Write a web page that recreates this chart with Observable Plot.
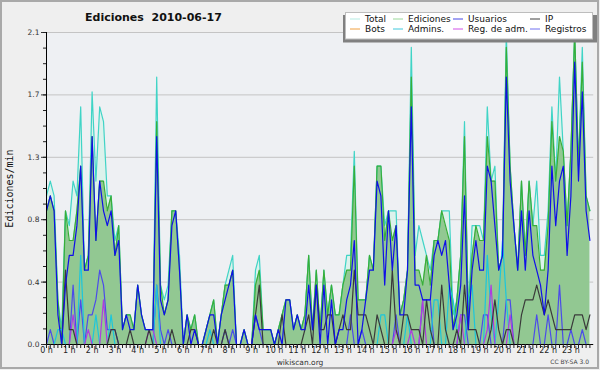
<!DOCTYPE html>
<html><head><meta charset="utf-8">
<script src="https://cdn.jsdelivr.net/npm/d3@7"></script>
<script src="https://cdn.jsdelivr.net/npm/@observablehq/plot@0.6"></script>
<style>
html,body{margin:0;padding:0;background:#efefef;}
#wrap{position:relative;width:600px;height:370px;overflow:hidden;}
#wrap svg{display:block;}
#over{position:absolute;left:0;top:0;pointer-events:none;}
</style>
</head><body>
<div id="wrap"></div>
<script>
// Edits per 10-minute slot (value / 10 = edits per minute), 144 slots from 0:00 to 23:50
const total = [10,11,10,3,1,9,8,11,10,16, 5,6,17,11,16,15,10,10,7,8, 1,2,2,1,4,2,1,1,1,18, 4,3,4,9,9,6,0,2,1,2, 0,0,1,2,3,0,2,4,5,6, 0,0,1,0,0,5,6,1,1,1, 0,1,2,3,3,1,2,1,2,6, 1,5,1,5,2,4,2,2,4,6, 6,13,3,3,3,6,5,12,12,8, 9,9,9,2,3,5,20,6,8,7, 6,5,7,7,9,9,9,2,3,6, 15,2,8,8,8,7,16,11,12,5, 6,21,12,8,5,11,6,11,8,11, 6,6,9,16,11,18,13,8,13,21, 12,20,10,9];
const ediciones = [9,10,9,3,0,9,7,7,9,12, 5,6,14,7,11,11,9,10,6,8, 1,2,2,1,4,2,1,1,1,15, 4,2,3,9,9,5,0,2,1,2, 0,0,1,2,3,0,2,4,4,5, 0,0,1,0,0,4,5,1,1,1, 0,1,2,3,3,1,2,1,2,6, 1,5,1,5,2,4,2,2,4,5, 5,12,3,3,3,6,5,12,12,7, 9,7,8,2,3,5,18,5,5,4, 6,4,7,7,9,8,7,1,3,6, 14,2,6,8,7,7,14,11,11,5, 6,20,12,8,5,11,6,11,8,8, 5,5,8,15,11,14,13,8,13,21, 12,19,10,9];
const usuarios = [9,10,9,2,0,4,6,6,8,12, 5,5,14,7,11,9,8,9,6,7, 1,2,1,1,4,2,1,1,1,14, 3,2,3,8,9,5,0,2,0,1, 0,0,1,2,2,0,2,3,4,5, 0,0,1,0,0,2,1,1,1,1, 0,1,0,3,3,1,2,1,1,4, 1,4,0,4,0,3,0,1,1,3, 4,7,0,1,3,5,5,11,10,4, 9,5,8,2,2,5,16,4,4,3, 3,3,6,7,6,7,4,1,2,4, 10,1,5,7,5,5,12,11,8,5, 6,18,11,8,5,9,5,9,6,5, 4,2,5,12,8,11,12,6,10,19, 11,17,9,7];
const ip = [0,0,0,0,0,5,1,1,0,0, 0,0,0,0,0,0,0,1,1,0, 0,0,1,0,0,0,0,1,0,0, 0,0,0,1,0,0,0,0,1,1, 0,0,0,0,1,0,0,1,0,0, 0,0,0,0,0,2,4,0,0,0, 0,0,2,0,0,0,0,0,1,2, 0,4,1,1,2,2,0,1,2,1, 1,5,2,2,2,1,0,2,1,0, 0,5,1,0,2,2,1,1,1,0, 3,1,0,0,4,1,0,0,1,0, 4,1,1,1,0,0,0,1,3,1, 0,1,1,0,0,2,3,3,3,4, 3,2,3,2,1,1,1,1,1,2, 2,2,1,2];
const bots = [0,0,0,0,0,0,0,0,0,0, 0,0,0,0,0,0,0,0,0,0, 0,0,0,0,0,0,0,0,0,0, 0,0,0,0,0,0,0,0,0,0, 0,0,0,0,0,0,0,0,0,0, 0,0,0,0,0,0,0,0,0,0, 0,0,0,0,0,0,0,0,0,0, 0,0,0,0,0,0,0,0,0,0, 0,0,0,0,0,0,0,0,0,0, 0,0,0,0,0,0,0,0,0,0, 0,0,0,0,0,0,0,0,0,0, 0,0,0,0,0,0,0,0,0,0, 0,0,0,0,0,0,0,0,0,0, 0,0,0,0,0,0,0,0,0,0, 0,0,0,0];
const admins = [0,0,0,1,1,0,0,0,0,6, 0,0,0,2,0,0,0,2,0,0, 0,0,0,0,0,0,0,0,0,4, 0,0,0,0,0,0,0,0,0,0, 0,0,0,1,0,0,0,0,0,0, 0,0,0,0,0,0,0,0,0,0, 0,0,0,0,0,0,0,0,0,0, 0,0,0,0,0,0,0,0,0,0, 0,0,0,0,0,0,0,0,2,2, 0,0,0,0,0,2,0,0,0,0, 0,0,3,3,0,0,4,3,1,0, 0,3,4,0,0,0,6,2,0,3, 7,3,0,0,0,0,0,0,0,0, 0,0,0,0,0,0,0,0,0,0, 0,0,0,0];
const regAdm = [0,0,0,0,0,0,0,2,0,0, 0,1,0,0,0,3,0,0,0,0, 0,0,0,0,0,0,0,1,1,0, 0,0,0,0,0,0,0,0,0,0, 0,0,0,0,0,0,0,0,0,0, 0,0,0,0,0,0,0,0,0,0, 0,0,0,0,0,0,0,0,0,0, 0,0,0,0,0,0,0,0,0,0, 0,0,0,0,0,0,0,0,0,0, 0,0,1,0,0,0,1,0,0,3, 0,0,0,0,0,0,0,0,0,2, 0,0,0,0,0,0,1,4,0,0, 0,0,2,0,0,0,0,0,0,0, 0,0,0,0,0,0,0,0,0,0, 0,0,0,0];
const registros = [0,1,0,0,0,0,0,4,0,3, 0,2,2,3,5,4,1,1,1,0, 0,0,0,0,0,0,0,0,0,4, 1,0,1,0,0,0,0,0,0,0, 0,0,0,0,0,0,0,1,0,1, 0,0,0,0,0,2,1,0,0,0, 0,0,0,0,0,0,0,0,0,0, 0,0,0,0,0,0,0,0,0,0, 2,0,0,1,0,0,0,0,0,0, 0,0,2,0,0,0,0,0,0,3, 3,3,0,0,0,0,0,0,0,2, 2,0,0,0,0,2,2,0,0,0, 0,3,3,0,0,0,0,0,0,2, 0,0,2,0,0,4,0,0,1,0, 0,1,0,0];

const hourTicks = [0,1,2,3,4,5,6,7,8,9,10,11,12,13,14,15,16,17,18,19,20,21,22,23];
const yTicks = [0, 0.42, 0.84, 1.26, 1.68, 2.1];
const legendItems = [
  {name:"Total", color:"#b5ebe3"}, {name:"Ediciones", color:"#9ad89a"},
  {name:"Usuarios", color:"#4646e6"}, {name:"IP", color:"#404040"},
  {name:"Bots", color:"#f0a040"}, {name:"Admins.", color:"#40c8dc"},
  {name:"Reg. de adm.", color:"#d050e8"}, {name:"Registros", color:"#7070f0"}
];

// time slot index -> hour of day
const rows = total.map((t, i) => ({
  h: i / 6,
  total: t / 10, ediciones: ediciones[i] / 10, usuarios: usuarios[i] / 10,
  ip: ip[i] / 10, bots: bots[i] / 10, admins: admins[i] / 10,
  regAdm: regAdm[i] / 10, registros: registros[i] / 10
}));
const minorX = rows.map(d => d.h);
const minorY = d3.range(0, 21).map(k => k * 0.105);

const ln = (key, color) => Plot.line(rows, {x: "h", y: key, stroke: color, strokeWidth: 1.2});

const chart = Plot.plot({
  width: 600, height: 370,
  marginTop: 32, marginBottom: 26, marginLeft: 46, marginRight: 6.8,
  x: {domain: [0, 24], axis: null},
  y: {domain: [0, 2.1], axis: null},
  style: {background: "transparent", fontFamily: "DejaVu Sans, sans-serif", color: "#222"},
  marks: [
    Plot.frame({fill: "#eef0f3", stroke: null}),
    Plot.gridY(yTicks, {stroke: "#c4c4c4", strokeOpacity: 1}),
    Plot.areaY(rows, {x: "h", y: "total", fill: "#dcf2ec"}),
    Plot.areaY(rows, {x: "h", y: "ediciones", fill: "#92c892"}),
    ln("bots", "#f0a030"),
    ln("total", "#40d4c6"),
    ln("ediciones", "#38ae38"),
    ln("registros", "#4b4bea"),
    ln("admins", "#1cc6dc"),
    ln("regAdm", "#b03ce0"),
    ln("ip", "#3a3a3a"),
    ln("usuarios", "#0f0fe8"),
    Plot.ruleX([0], {stroke: "#000"}),
    Plot.ruleY([0], {stroke: "#000"}),
    Plot.axisY(yTicks, {tickFormat: d3.format(".1f"), tickSize: 5, tickPadding: 2, fontSize: 7.5, label: null, color: "#333"}),
    Plot.axisY(minorY, {tickSize: 3, tickFormat: () => "", label: null}),
    Plot.axisX(hourTicks, {tickFormat: d => d + " h", tickSize: 4, tickPadding: -1, fontSize: 8, label: null}),
    Plot.axisX(minorX, {tickSize: 4, tickFormat: () => "", label: null})
  ]
});
document.getElementById("wrap").appendChild(chart);

// overlay: title, axis label, footer, legend, border
const svg = d3.select("#wrap").append("svg").attr("id", "over")
  .attr("width", 600).attr("height", 370)
  .style("font-family", "DejaVu Sans, sans-serif");
svg.append("text").attr("x", 85).attr("y", 21)
  .style("white-space", "pre").attr("font-size", 11).attr("font-weight", "bold").attr("fill", "#111")
  .text("Ediciones  2010-06-17");
svg.append("text").attr("transform", "translate(13,188.5) rotate(-90)")
  .attr("text-anchor", "middle").attr("font-family", "DejaVu Sans Mono, monospace")
  .attr("font-size", 10).attr("fill", "#111").text("Ediciones/min");
svg.append("text").attr("x", 300).attr("y", 365).attr("text-anchor", "middle")
  .attr("font-size", 7.5).attr("fill", "#333").text("wikiscan.org");
svg.append("text").attr("x", 589).attr("y", 364).attr("text-anchor", "end")
  .attr("font-size", 6).attr("fill", "#444").text("CC BY-SA 3.0");

const lg = svg.append("g");
lg.append("rect").attr("x", 343).attr("y", 15).attr("width", 254.5).attr("height", 27.5).attr("fill", "#808080");
lg.append("rect").attr("x", 345.5).attr("y", 12.5).attr("width", 247).attr("height", 26.5)
  .attr("fill", "#fff").attr("stroke", "#bdbdbd");
const colX = [350, 393, 453, 530];
legendItems.forEach((d, k) => {
  const c = k % 4, r = Math.floor(k / 4);
  const y = 19 + r * 10;
  lg.append("line").attr("x1", colX[c]).attr("x2", colX[c] + 10).attr("y1", y).attr("y2", y)
    .attr("stroke", d.color).attr("stroke-width", 1);
  lg.append("text").attr("x", colX[c] + 15).attr("y", y + 3).attr("font-size", 9).attr("fill", "#111").text(d.name);
});
svg.append("rect").attr("x", 1).attr("y", 1).attr("width", 597).attr("height", 367)
  .attr("fill", "none").attr("stroke", "#a9a9a9").attr("stroke-width", 2);
</script>
</body></html>
